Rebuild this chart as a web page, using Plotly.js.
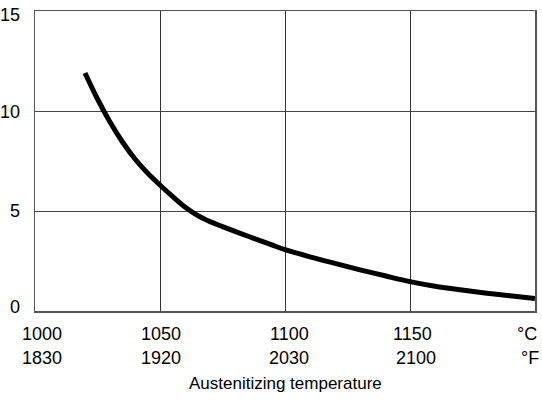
<!DOCTYPE html>
<html>
<head>
<meta charset="utf-8">
<script src="https://cdn.plot.ly/plotly-3.0.1.min.js"></script>
<style>html,body{margin:0;padding:0;background:#fff;}#chart{width:542px;height:406px;}</style>
</head>
<body>
<div id="chart"></div>
<script>
// Data
var temperatureC = [1020, 1025, 1030, 1035, 1040, 1045, 1050, 1055, 1060, 1065, 1070, 1075, 1080, 1085, 1090, 1095, 1100, 1110, 1120, 1130, 1140, 1150, 1160, 1170, 1180, 1190, 1200];
var values = [11.9, 10.6, 9.45, 8.45, 7.6, 6.9, 6.3, 5.73, 5.2, 4.78, 4.47, 4.22, 3.98, 3.75, 3.52, 3.29, 3.07, 2.71, 2.38, 2.06, 1.76, 1.47, 1.24, 1.06, 0.9, 0.76, 0.62];
var celsiusTicks = [1000, 1050, 1100, 1150];
var celsiusLabels = ["1000", "1050", "1100", "1150"];
var fahrenheitLabels = ["1830", "1920", "2030", "2100"];
var unitLabels = ["°C", "°F"];
var yTicks = [0, 5, 10, 15];
var yLabels = ["0", "5", "10", "15"];
var xTitle = "Austenitizing temperature";

var FONT = '"Liberation Sans", Arial, sans-serif';
var FS = 18;

var annotations = [];
var shiftsRow1 = [7, 1, 4, 2];
var shiftsRow2 = [7, 1, 4, 6];
for (var i = 0; i < celsiusTicks.length; i++) {
  annotations.push({x: celsiusTicks[i], y: 0, xref: 'x', yref: 'paper', text: celsiusLabels[i],
    showarrow: false, xanchor: 'center', yanchor: 'top', yshift: -11, xshift: shiftsRow1[i],
    font: {family: FONT, size: FS, color: '#000'}});
  annotations.push({x: celsiusTicks[i], y: 0, xref: 'x', yref: 'paper', text: fahrenheitLabels[i],
    showarrow: false, xanchor: 'center', yanchor: 'top', yshift: -35, xshift: shiftsRow2[i],
    font: {family: FONT, size: FS, color: '#000'}});
}
annotations.push({x: 1200, y: 0, xref: 'x', yref: 'paper', text: unitLabels[0], showarrow: false,
  xanchor: 'right', yanchor: 'top', yshift: -11, xshift: 4, font: {family: FONT, size: FS, color: '#000'}});
annotations.push({x: 1200, y: 0, xref: 'x', yref: 'paper', text: unitLabels[1], showarrow: false,
  xanchor: 'right', yanchor: 'top', yshift: -35, xshift: 6, font: {family: FONT, size: FS, color: '#000'}});
annotations.push({x: 0.5, y: 0, xref: 'paper', yref: 'paper', text: xTitle, showarrow: false,
  xanchor: 'center', yanchor: 'top', yshift: -61, font: {family: FONT, size: 17, color: '#000'}});

var yShifts = [4, 0, -1, -4];
for (var j = 0; j < yTicks.length; j++) {
  annotations.push({x: 0, y: yTicks[j], xref: 'paper', yref: 'y', text: yLabels[j], showarrow: false,
    xanchor: 'right', yanchor: 'middle', xshift: -13, yshift: yShifts[j],
    font: {family: FONT, size: FS, color: '#000'}});
}

var trace = {
  x: temperatureC, y: values, type: 'scatter', mode: 'lines',
  line: {color: '#000', width: 5, shape: 'spline', smoothing: 1},
  hoverinfo: 'skip', cliponaxis: false
};

var layout = {
  width: 542, height: 406,
  margin: {l: 35, r: 7, t: 11, b: 95, pad: 0},
  paper_bgcolor: '#fff', plot_bgcolor: '#fff',
  showlegend: false,
  font: {family: FONT, size: FS, color: '#000'},
  xaxis: {
    range: [1000, 1200], tickmode: 'array', tickvals: [1050, 1100, 1150], showticklabels: false,
    showgrid: true, gridcolor: '#333', gridwidth: 1, zeroline: false,
    showline: true, linecolor: '#555', linewidth: 1.5, mirror: true, ticks: ''
  },
  yaxis: {
    range: [0, 15], tickmode: 'array', tickvals: [5, 10], showticklabels: false,
    showgrid: true, gridcolor: '#444', gridwidth: 1, zeroline: false,
    showline: true, linecolor: '#555', linewidth: 1.5, mirror: true, ticks: ''
  },
  annotations: annotations
};

Plotly.newPlot('chart', [trace], layout, {staticPlot: true, displayModeBar: false});
</script>
</body>
</html>
